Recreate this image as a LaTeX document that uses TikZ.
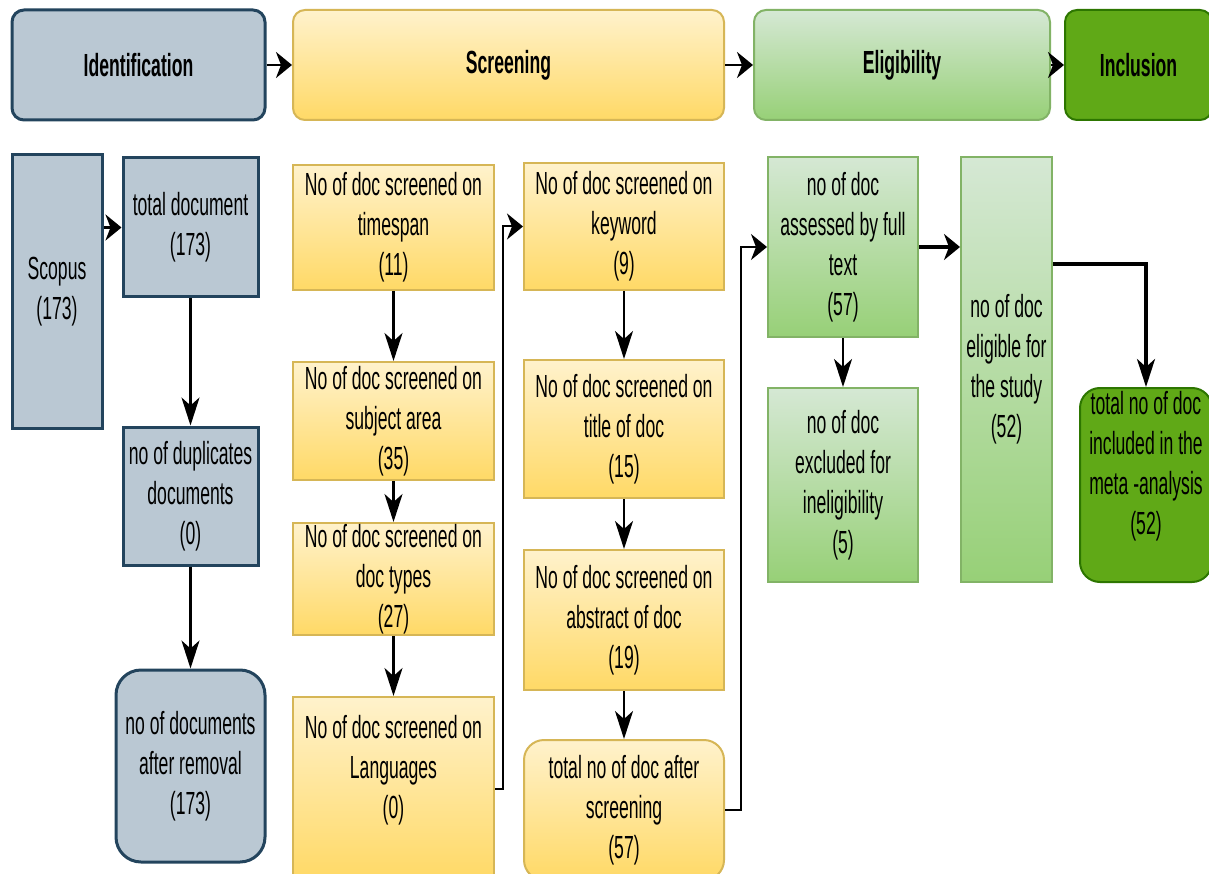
\documentclass[tikz,border=0pt]{standalone}
\usepackage{fontspec}
\setmainfont{Liberation Sans}[FakeStretch=0.55]
\usetikzlibrary{arrows.meta}
\definecolor{bfill}{HTML}{BAC8D3}
\definecolor{bdraw}{HTML}{23445D}
\definecolor{ytop}{HTML}{FFF2CC}
\definecolor{ybot}{HTML}{FFD966}
\definecolor{ydraw}{HTML}{D6B656}
\definecolor{gtop}{HTML}{D5E8D4}
\definecolor{gbot}{HTML}{97D077}
\definecolor{gdraw}{HTML}{82B366}
\definecolor{dgfill}{HTML}{60A917}
\definecolor{dgdraw}{HTML}{2D7600}
\tikzset{
  txt/.style={align=center, font=\fontsize{32}{40}\selectfont, inner sep=0pt, text=black},
  bbox/.style={txt, draw=bdraw, fill=bfill, line width=3pt},
  ybox/.style={txt, draw=ydraw, top color=ytop, bottom color=ybot, line width=2pt},
  gbox/.style={txt, draw=gdraw, top color=gtop, bottom color=gbot, line width=2pt},
  dgbox/.style={txt, draw=dgdraw, fill=dgfill, line width=2pt},
  head/.style={font=\fontsize{32}{40}\selectfont\bfseries, rounded corners=12pt},
  htip/.style={-{Stealth[length=16pt,width=26pt,inset=5pt]}},
  vtip/.style={-{Stealth[length=28pt,width=18pt,inset=8pt]}},
  conn/.style={line width=2.5pt, draw=black},
}
\begin{document}
\begin{tikzpicture}[x=1pt,y=-1pt]
\useasboundingbox[fill=white] (0,0) rectangle (1209,874);
% header bars
\node[bbox, head, minimum width=253pt, minimum height=110pt] (hid) at (138.5,65) {Identification};
\node[ybox, head, minimum width=431pt, minimum height=110pt] (hscr) at (508.5,65) {Screening};
\node[gbox, head, minimum width=296pt, minimum height=110pt] (heli) at (902,65) {Eligibility};
\node[dgbox, head, minimum width=147pt, minimum height=110pt] (hinc) at (1138.5,65) {Inclusion};
\draw[conn, htip] (hid) -- (hscr);
\draw[conn, htip] (hscr) -- (heli);
\draw[conn, htip] (heli) -- (hinc);
% identification column
\node[bbox, minimum width=90pt, minimum height=273pt] (scopus) at (57,291.5) {Scopus\\(173)};
\node[bbox, minimum width=135pt, minimum height=139pt] (total) at (190.5,227.5) {total document\\(173)};
\node[bbox, minimum width=135pt, minimum height=138pt] (dup) at (190.5,496) {no of duplicates\\documents\\(0)};
\node[bbox, rounded corners=25pt, minimum width=149pt, minimum height=192pt] (rem) at (190.5,766) {no of documents\\after removal\\(173)};
\draw[line width=3pt, htip] (scopus.east |- total) -- (total.west);
\draw[conn, vtip] (total) -- (dup);
\draw[conn, vtip] (dup) -- (rem);
% screening column 1
\node[ybox, minimum width=201pt, minimum height=125pt] (ts) at (393.5,227.5) {No of doc screened on\\timespan\\(11)};
\node[ybox, minimum width=201pt, minimum height=118pt] (sa) at (393.5,421) {No of doc screened on\\subject area\\(35)};
\node[ybox, minimum width=201pt, minimum height=112pt] (dt) at (393.5,579) {No of doc screened on\\doc types\\(27)};
\node[ybox, minimum width=201pt, minimum height=183pt] (lang) at (393.5,788.5) {};
\node[txt] (langtxt) at (393.5,770) {No of doc screened on\\Languages\\(0)};
\draw[conn, vtip] (ts) -- (sa);
\draw[conn, vtip] (sa) -- (dt);
\draw[conn, vtip] (dt) -- (lang);
% screening column 2
\node[ybox, minimum width=200pt, minimum height=127pt] (kw) at (624,226.5) {No of doc screened on\\keyword\\(9)};
\node[ybox, minimum width=200pt, minimum height=138pt] (title) at (624,429) {No of doc screened on\\title of doc\\(15)};
\node[ybox, minimum width=200pt, minimum height=140pt] (abs) at (624,620) {No of doc screened on\\abstract of doc\\(19)};
\node[ybox, rounded corners=20pt, minimum width=200pt, minimum height=140pt] (aft) at (624,810) {total no of doc after\\screening\\(57)};
\draw[conn, vtip] (kw) -- (title);
\draw[conn, vtip] (title) -- (abs);
\draw[conn, vtip] (abs) -- (aft);
% eligibility
\node[gbox, minimum width=150pt, minimum height=180pt] (ass) at (843,247) {no of doc\\assessed by full\\text\\(57)};
\node[gbox, minimum width=150pt, minimum height=194pt] (exc) at (843,485) {no of doc\\excluded for\\ineligibility\\(5)};
\node[gbox, minimum width=91pt, minimum height=425pt] (elig) at (1006.5,369.5) {no of doc\\eligible for\\the study\\(52)};
\node[dgbox, rounded corners=20pt, minimum width=132pt, minimum height=194pt] (incl) at (1146,485) {};
\node[txt] (incltxt) at (1146,466) {total no of doc\\included in the\\meta -analysis\\(52)};
\draw[line width=2pt, htip] (lang.east) -- ++(8,0) |- (kw.west);
\draw[line width=2pt, htip] (aft.east) -- ++(16,0) |- (ass.west);
\draw[conn, vtip] (ass) -- (exc);
\draw[line width=3.5pt, htip] (ass.east) -- (ass.east -| elig.west);
\draw[line width=3.5pt, vtip] ([yshift=-108pt]elig.north east) -| (incl.north);
\end{tikzpicture}
\end{document}
